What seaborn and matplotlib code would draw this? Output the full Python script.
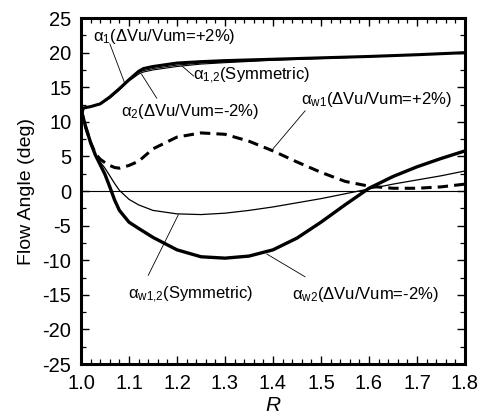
import matplotlib
matplotlib.use("Agg")
import matplotlib.pyplot as plt
import seaborn as sns
import pandas as pd
from matplotlib.ticker import MultipleLocator, FormatStrFormatter

# Radius ratio stations
R_top = [1.0, 1.005, 1.02, 1.04, 1.06, 1.08, 1.10, 1.12, 1.13, 1.15, 1.20,
         1.25, 1.30, 1.40, 1.50, 1.60, 1.70, 1.80]
# Absolute flow angles
alpha_1 = [10.8, 12.0, 12.2, 12.6, 13.6, 14.8, 16.1, 17.3, 17.7, 18.0, 18.5,
           18.7, 18.85, 19.05, 19.25, 19.45, 19.7, 20.0]
alpha_12 = [10.8, 12.0, 12.2, 12.6, 13.5, 14.7, 16.0, 17.1, 17.4, 17.7, 18.2,
            18.5, 18.65, 18.95, 19.2, 19.45, 19.7, 20.0]
alpha_2 = [10.8, 12.0, 12.2, 12.5, 13.4, 14.6, 15.9, 16.9, 17.2, 17.5, 18.0,
           18.35, 18.55, 18.9, 19.15, 19.4, 19.7, 20.0]

R_w = [1.0, 1.01, 1.02, 1.03, 1.04, 1.05, 1.06, 1.07, 1.08, 1.10, 1.12, 1.15,
       1.20, 1.25, 1.30, 1.35, 1.40, 1.45, 1.50, 1.55, 1.60, 1.65, 1.70, 1.75, 1.80]
# Relative (wake) flow angles
alpha_w1 = [11.8, 9.2, 7.0, 5.4, 4.6, 4.1, 3.7, 3.4, 3.3, 3.7, 4.3, 6.1,
            7.8, 8.4, 8.2, 7.2, 5.8, 4.2, 2.7, 1.4, 0.7, 0.4, 0.4, 0.6, 1.0]
alpha_w12 = [11.8, 9.2, 7.0, 5.3, 4.2, 3.3, 2.2, 1.1, 0.1, -1.2, -2.0, -2.8,
             -3.3, -3.4, -3.2, -2.8, -2.3, -1.7, -1.1, -0.4, 0.3, 1.0, 1.6, 2.2, 2.9]
alpha_w2 = [11.8, 9.2, 7.0, 5.2, 3.8, 2.4, 0.6, -1.3, -2.8, -4.5, -5.4, -6.7,
            -8.5, -9.5, -9.7, -9.4, -8.5, -6.8, -4.5, -2.0, 0.4, 2.1, 3.5, 4.7, 5.8]

sns.set_style("ticks")
plt.rcParams["font.family"] = ["Liberation Sans", "DejaVu Sans"]
plt.rcParams["mathtext.fontset"] = "custom"
plt.rcParams["mathtext.rm"] = "Liberation Sans"
plt.rcParams["mathtext.it"] = "Liberation Sans:italic"
plt.rcParams["axes.unicode_minus"] = False
plt.rcParams["text.color"] = "black"
plt.rcParams["axes.labelcolor"] = "black"
plt.rcParams["xtick.color"] = "black"
plt.rcParams["ytick.color"] = "black"
plt.rcParams["axes.edgecolor"] = "black"

fig = plt.figure(figsize=(4.81, 4.20), dpi=100)
ax = fig.add_axes([0.1684, 0.1333, 0.7983, 0.8237])

def draw(x, y, lw, ls="-"):
    df = pd.DataFrame({"R": x, "angle": y})
    sns.lineplot(data=df, x="R", y="angle", ax=ax, color="black", lw=lw,
                 linestyle=ls, estimator=None, sort=False)

ax.axhline(0, color="black", lw=0.8)
draw(R_top, alpha_2, 0.8)
draw(R_top, alpha_12, 0.8)
draw(R_top, alpha_1, 2.2)
draw(R_w, alpha_w12, 0.9)
draw(R_w, alpha_w2, 2.4)
draw(R_w, alpha_w1, 2.2, (0, (3.4, 2.0)))

ax.set_xlim(1.0, 1.8)
ax.set_ylim(-25, 25)
ax.xaxis.set_major_locator(MultipleLocator(0.1))
ax.xaxis.set_minor_locator(MultipleLocator(0.02))
ax.yaxis.set_major_locator(MultipleLocator(5))
ax.yaxis.set_minor_locator(MultipleLocator(2.5))
ax.tick_params(which="both", direction="in", top=True, right=True,
               labelsize=14.5, pad=7)
ax.tick_params(which="major", length=6, width=1.0)
ax.tick_params(which="minor", length=3.5, width=0.9)
ax.xaxis.set_major_formatter(FormatStrFormatter("%.1f"))
for s in ax.spines.values():
    s.set_linewidth(2.2)
    s.set_visible(True)

ax.set_xlabel("R", fontsize=15, fontstyle="italic", labelpad=2)
ax.set_ylabel("Flow Angle (deg)", fontsize=14, labelpad=5)

fs = 12
lead = dict(arrowstyle="-", lw=0.6, color="black", shrinkA=0, shrinkB=0)

def label(x, y, s):
    ax.text(x, y, s, fontsize=fs, va="center", ha="left")

def leader(p0, p1):
    ax.annotate("", xy=p1, xytext=p0, arrowprops=lead)

label(1.026, 22.4, r"α$_{\mathrm{1}}$(ΔVu/Vum=+2%)")
leader((1.06, 21.3), (1.091, 15.6))

label(1.233, 16.6, r"α$_{\mathrm{1{,}2}}$(Symmetric)")
leader((1.21, 18.1), (1.235, 16.6))

label(1.083, 11.5, r"α$_{\mathrm{2}}$(ΔVu/Vum=-2%)")
leader((1.126, 16.9), (1.158, 13.4))

label(1.458, 13.3, r"α$_{\mathrm{w1}}$(ΔVu/Vum=+2%)")
leader((1.40, 6.1), (1.467, 11.6))

label(1.097, -15.0, r"α$_{\mathrm{w1{,}2}}$(Symmetric)")
leader((1.203, -3.4), (1.14, -12.2))

label(1.44, -15.0, r"α$_{\mathrm{w2}}$(ΔVu/Vum=-2%)")
leader((1.387, -9.1), (1.467, -12.4))

fig.savefig("out.png", dpi=100)
